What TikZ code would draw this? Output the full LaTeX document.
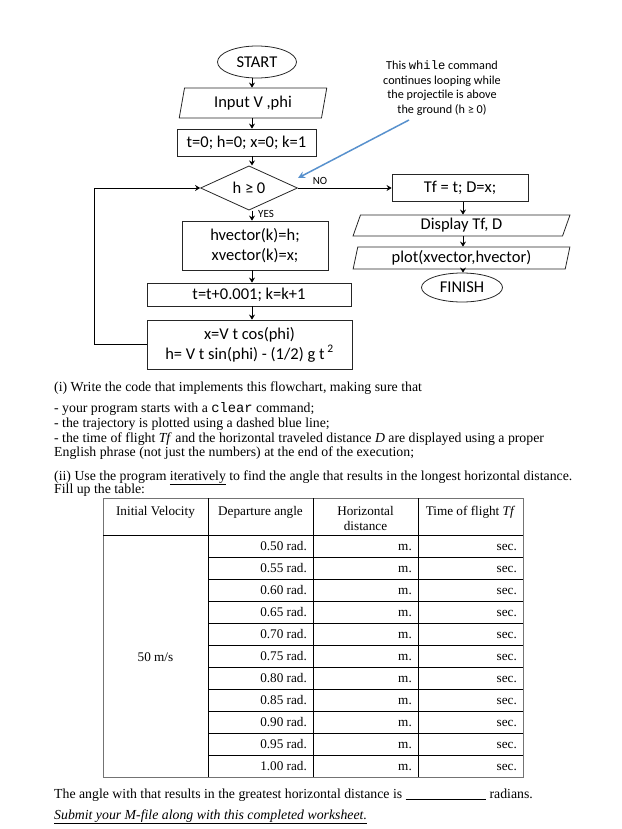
\documentclass[tikz,border=0pt]{standalone}
\usepackage{fontspec}
\setmainfont{Liberation Serif}
\setmonofont{Liberation Mono}
\newfontfamily\calfont{Carlito}
\usetikzlibrary{shapes.geometric,arrows.meta}
\definecolor{noteblue}{RGB}{88,145,205}
\begin{document}
\begin{tikzpicture}[x=1pt,y=-1pt,
  fc/.style={font=\calfont\fontsize{16.5}{18}\selectfont},
  procbox/.style={fc, draw=black!85, line width=0.8pt, rectangle, inner sep=0pt, align=center},
  iobox/.style={fc, draw=black!85, line width=0.8pt, trapezium, trapezium left angle=78, trapezium right angle=102, trapezium stretches=true, inner sep=0pt},
  term/.style={fc, draw=black!85, line width=0.8pt, ellipse, inner sep=0pt},
  decis/.style={fc, draw=black!85, line width=0.8pt, diamond, inner sep=0pt},
  arr/.style={-{Stealth[length=5pt,width=6pt]}, line width=0.9pt},
  small/.style={font=\calfont\fontsize{11}{13}\selectfont, inner sep=0pt},
  body/.style={font=\fontsize{13.8}{15}\selectfont, anchor=base west, inner sep=0pt},
  cell/.style={font=\fontsize{13.2}{15}\selectfont, inner sep=0pt},
  gridline/.style={line width=0.8pt, black},
  outerline/.style={line width=1pt, black!55},
]
\useasboundingbox (0,0) rectangle (621,829);

% ---------- flowchart ----------
\coordinate (colL) at (252,0);
\coordinate (colR) at (463,0);
\node[term, minimum width=79, minimum height=32] (start) at (257,62) {START};
\node[iobox, minimum width=148, minimum height=30] (inp) at (253,103) {Input V ,phi};
\node[procbox, minimum width=139, minimum height=27] (init) at (246.5,142.5) {t=0; h=0; x=0; k=1};
\node[decis, minimum width=97, minimum height=40] (diam) at (249,188) {h ≥ 0};
\node[procbox, minimum width=146, minimum height=49, font=\calfont\fontsize{16.5}{20}\selectfont] (vec) at (255,245.5) {hvector(k)=h;\\xvector(k)=x;};
\node[procbox, minimum width=204, minimum height=23] (inc) at (249,294.5) {t=t+0.001; k=k+1};
\node[procbox, minimum width=205, minimum height=49, font=\calfont\fontsize{16.5}{20}\selectfont] (upd) at (249.5,344.5) {x=V t cos(phi)\\h= V t sin(phi) - (1/2) g t\,\textsuperscript{2}};

\node[procbox, minimum width=136, minimum height=27] (tf) at (460,188) {Tf = t; D=x;};
\node[iobox, minimum width=217, minimum height=21] (disp) at (461.5,225.5) {Display Tf, D};
\node[iobox, minimum width=217, minimum height=22] (plot) at (461.5,258) {plot(xvector,hvector)};
\node[term, minimum width=81, minimum height=29] (fin) at (462,287.5) {FINISH};

\draw[arr] (start.south -| colL) -- (inp.north -| colL);
\draw[arr] (inp.south -| colL) -- (init.north -| colL);
\draw[arr] (init.south -| colL) -- (diam.north -| colL);
\draw[arr] (diam.south -| colL) -- (vec.north -| colL);
\draw[arr] (vec.south -| colL) -- (inc.north -| colL);
\draw[arr] (inc.south -| colL) -- (upd.north -| colL);
\draw[arr] (upd.west) -- ++(-52,0) |- (diam.west);
\draw[arr] (diam.east) -- (tf.west);
\draw[arr] (tf.south -| colR) -- (disp.north -| colR);
\draw[arr] (disp.south -| colR) -- (plot.north -| colR);
\draw[arr] (plot.south -| colR) -- (fin.north -| colR);

\node[small] (no) at (320,181) {NO};
\node[small] (yes) at (266,214) {YES};

\node[font=\calfont\fontsize{12.2}{14.6}\selectfont, align=center, inner sep=0pt] (note) at (442,88)
  {This {\fontspec{Liberation Mono}\fontsize{12.2}{14.6}\selectfont while} command\\continues looping while\\the projectile is above\\the ground (h ≥ 0)};
\coordinate (bstart) at (409,120);
\coordinate (bend) at (298,178);
\draw[noteblue, line width=1.5pt, -{Stealth[length=7pt,width=7pt]}] (bstart) -- (bend);

% ---------- text ----------
\node[body] (l1) at (54,391) {(i) Write the code that implements this flowchart, making sure that};
\node[body] (l2) at (54,412) {- your program starts with a \texttt{clear} command;};
\node[body] (l3) at (54,427) {- the trajectory is plotted using a dashed blue line;};
\node[body] (l4) at (54,442) {- the time of flight \textit{Tf} and the horizontal traveled distance \textit{D} are displayed using a proper};
\node[body] (l5) at (54,456) {English phrase (not just the numbers) at the end of the execution;};
\node[body] (l6) at (54,480) {(ii) Use the program \underline{iteratively} to find the angle that results in the longest horizontal distance.};
\node[body] (l7) at (54,493) {Fill up the table:};

% ---------- table ----------
\draw[outerline] (103,498) rectangle (523,777);
\draw[gridline] (103,535) -- (523,535);
\foreach \x in {208,313,418} \draw[gridline] (\x,498) -- (\x,777);
\foreach \i in {1,...,10} \draw[gridline] (208,535+22*\i) -- (523,535+22*\i);

\node[cell] (h1) at (155.5,512) {Initial Velocity};
\node[cell] (h2) at (260.5,512) {Departure angle};
\node[cell, align=center, font=\fontsize{13.2}{15}\selectfont] (h3) at (365.5,518) {Horizontal\\distance};
\node[cell] (h4) at (470.5,512) {Time of flight \textit{Tf}};
\node[cell] (v) at (155.5,657) {50 m/s};

\foreach \a [count=\i from 0] in {0.50,0.55,0.60,0.65,0.70,0.75,0.80,0.85,0.90,0.95,1.00} {
  \node[cell, anchor=base east] (ang\i) at (307,550+22*\i) {\a\ rad.};
  \node[cell, anchor=base east] (m\i) at (412,550+22*\i) {m.};
  \node[cell, anchor=base east] (s\i) at (517,550+22*\i) {sec.};
}

\node[body] (ans) at (54,798) {The angle with that results in the greatest horizontal distance is \rule[-1.5pt]{80pt}{0.7pt}\hspace{4pt}radians.};
\node[body] (sub) at (54,819) {\underline{\textit{Submit your M-file along with this completed worksheet.}}};
\end{tikzpicture}
\end{document}
